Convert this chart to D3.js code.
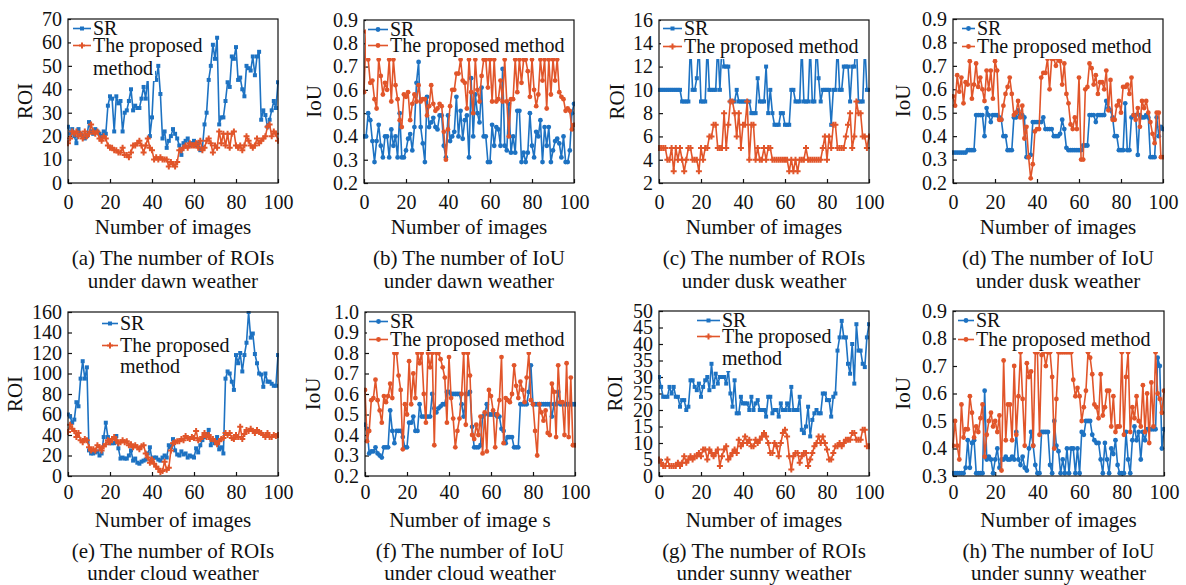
<!DOCTYPE html>
<html>
<head>
<meta charset="utf-8">
<script src="https://cdn.jsdelivr.net/npm/d3@7"></script>
<style>
  body { margin: 0; background: #fff; }
  text { font-family: "Liberation Serif", "Times New Roman", serif; fill: #111; }
</style>
</head>
<body>
<svg id="fig" width="1186" height="585"></svg>
<script>
// x positions (image index) and shared labels
const imageIdx = d3.range(0, 101);
const xTickValues = [0, 20, 40, 60, 80, 100];
const seriesNames = ['SR', 'The proposed method'];

// y tick labels for each panel
const roiDawnTicks = [0, 10, 20, 30, 40, 50, 60, 70];
const roiDuskTicks = [2, 4, 6, 8, 10, 12, 14, 16];
const roiCloudTicks = [0, 20, 40, 60, 80, 100, 120, 140, 160];
const roiSunnyTicks = [0, 5, 10, 15, 20, 25, 30, 35, 40, 45, 50];
const iouTicks = [0.2, 0.3, 0.4, 0.5, 0.6, 0.7, 0.8, 0.9];
const iouCloudTicks = [0.2, 0.3, 0.4, 0.5, 0.6, 0.7, 0.8, 0.9, 1.0];
const iouSunnyTicks = [0.3, 0.4, 0.5, 0.6, 0.7, 0.8, 0.9];

// (a) ROI, dawn
const roiDawnSR = [
  24,21,23,20,17,23,21,20,19,20, 26,22,21,23,22,21,20,22,21,33,
  37,36,22,37,34,35,22,30,31,35, 40,31,33,32,32,36,41,36,46,20,
  28,47,44,50,38,19,22,15,18,20, 23,21,19,16,12,17,18,19,16,17,
  18,16,17,14,15,25,30,44,50,59, 53,62,25,28,28,35,43,41,54,53,
  58,44,45,40,37,50,49,48,54,46, 54,56,27,31,29,24,27,31,35,32, 43];
const roiDawnOurs = [
  17,19,22,21,22,20,21,19,22,20, 21,25,22,21,22,19,18,20,19,16,
  15,15,14,14,13,13,15,12,12,11, 13,16,16,17,18,16,13,16,19,15,
  14,10,11,10,11,10,10,10,7,9, 8,7,9,14,14,15,16,15,17,16,
  16,17,15,18,14,15,18,19,17,13, 16,15,22,17,21,16,21,15,21,22,
  16,15,16,14,16,20,18,16,15,16, 19,17,18,19,20,24,25,20,22,21, 18];

// (b) IoU, dawn
const iouDawnSR = [
  .40,.40,.50,.47,.38,.29,.38,.45,.36,.31, .40,.40,.31,.43,.36,.40,.31,.50,.31,.31,
  .34,.39,.41,.34,.44,.63,.72,.44,.37,.29, .57,.44,.46,.48,.44,.43,.49,.49,.36,.31,
  .49,.38,.40,.42,.57,.40,.51,.39,.47,.49, .31,.65,.40,.58,.50,.46,.61,.40,.40,.29,
  .29,.45,.36,.44,.43,.36,.69,.36,.34,.54, .33,.40,.33,.51,.51,.29,.33,.29,.33,.50,
  .36,.31,.42,.40,.47,.29,.44,.36,.44,.29, .34,.38,.39,.37,.31,.40,.29,.29,.34,.50, .54];
const iouDawnOurs = [
  .59,.85,.73,.63,.64,.56,.52,.73,.66,.58, .63,.60,.73,.55,.73,.62,.56,.47,.44,.58,
  .57,.59,.47,.54,.58,.55,.62,.55,.56,.56, .49,.53,.62,.54,.51,.52,.54,.53,.42,.30,
  .43,.53,.60,.60,.67,.67,.73,.64,.63,.52, .73,.59,.50,.73,.60,.55,.66,.73,.73,.61,
  .73,.55,.73,.55,.56,.64,.55,.73,.55,.40, .56,.56,.73,.59,.73,.63,.73,.73,.68,.57,
  .73,.60,.53,.58,.73,.64,.73,.52,.73,.58, .73,.64,.73,.59,.57,.56,.51,.52,.51,.43, .45];

// (c) ROI, dusk
const roiDuskSR = [
  10,10,10,10,10,10,10,10,10,10, 10,9,9,9,9,14,10,10,11,14,
  9,9,9,14,10,10,10,10,14,10, 14,12,12,12,9,9,9,10,9,9,
  9,9,9,9,8,8,8,11,9,9, 9,12,8,10,8,7,7,7,8,8,
  7,7,7,10,10,9,9,9,14,9, 9,9,14,9,9,14,11,9,10,10,
  10,10,7,10,10,14,10,10,12,12, 12,9,12,12,14,9,9,9,14,10, 10];
const roiDuskOurs = [
  5,5,5,5,4,4,5,3,5,4, 5,4,3,4,5,5,4,4,4,3,
  5,4,5,5,6,6,7,7,5,5, 5,8,5,7,9,9,8,6,8,5,
  7,7,9,4,7,7,4,5,4,4, 5,4,5,5,4,4,4,4,4,4,
  4,4,3,4,3,4,3,4,4,4, 5,4,4,4,4,4,4,4,5,6,
  4,6,5,7,7,5,5,5,5,6, 7,8,5,6,9,8,8,6,6,5, 6];

// (d) IoU, dusk
const iouDuskSR = [
  .33,.33,.33,.33,.33,.33,.33,.34,.34,.34, .34,.49,.49,.49,.49,.40,.52,.49,.46,.49,
  .49,.49,.48,.47,.40,.40,.34,.34,.34,.48, .48,.51,.49,.49,.48,.31,.31,.32,.46,.46,
  .46,.46,.46,.48,.43,.43,.43,.43,.40,.40, .40,.41,.47,.43,.35,.34,.34,.34,.34,.34,
  .34,.34,.36,.36,.36,.49,.49,.49,.46,.49, .49,.49,.49,.55,.52,.51,.48,.40,.40,.34,
  .34,.34,.54,.34,.34,.48,.49,.49,.32,.49, .48,.48,.49,.48,.31,.31,.31,.48,.40,.44, .43];
const iouDuskOurs = [
  .57,.53,.66,.59,.65,.54,.63,.62,.72,.56, .62,.71,.61,.65,.60,.55,.68,.60,.68,.56,
  .72,.68,.47,.47,.53,.58,.61,.65,.58,.49, .50,.55,.48,.53,.39,.44,.31,.22,.28,.42,
  .43,.43,.65,.67,.67,.73,.60,.73,.73,.70, .73,.72,.62,.71,.58,.54,.45,.43,.48,.43,
  .65,.30,.30,.60,.61,.71,.69,.62,.66,.58, .63,.63,.60,.68,.51,.64,.47,.47,.53,.55,
  .50,.61,.61,.62,.58,.65,.49,.47,.52,.44, .55,.52,.55,.50,.46,.41,.37,.50,.50,.31, .31];

// (e) ROI, cloud
const roiCloudSR = [
  60,58,52,55,72,68,95,112,95,106, 25,22,22,23,24,20,22,38,52,38,
  32,32,32,39,27,17,18,17,17,20, 25,15,17,13,12,14,15,16,22,28,
  16,18,18,16,15,18,20,18,30,28, 36,25,21,20,24,21,22,18,20,19,
  18,27,23,30,35,38,40,45,30,35, 32,38,26,28,22,95,102,100,92,84,
  118,110,120,102,118,130,160,135,139,119, 110,100,99,87,100,92,92,90,88,88, 118];
const roiCloudOurs = [
  43,50,46,44,38,42,35,33,36,35, 28,25,26,25,30,28,25,29,31,35,
  33,36,38,35,32,33,35,33,34,30, 31,28,30,28,26,29,30,22,18,13,
  16,12,9,7,4,5,14,6,8,25, 32,33,34,34,36,35,39,37,36,38,
  37,44,35,36,38,42,38,40,36,36, 34,31,34,36,37,42,40,42,37,36,
  40,38,48,36,41,45,44,46,44,42, 45,43,42,40,38,42,38,38,40,39, 40];

// (f) IoU, cloud
const iouCloudSR = [
  .45,.43,.31,.32,.32,.34,.31,.30,.29,.34, .34,.34,.52,.42,.36,.42,.42,.42,.39,.34,
  .34,.46,.46,.49,.42,.42,.55,.49,.49,.49, .49,.49,.60,.53,.51,.53,.54,.55,.55,.61,
  .61,.60,.60,.60,.60,.60,.55,.49,.60,.60, .61,.44,.34,.34,.34,.35,.49,.50,.55,.50,
  .50,.50,.50,.49,.49,.43,.42,.36,.39,.39, .39,.34,.34,.34,.55,.55,.55,.55,.61,.74,
  .55,.55,.55,.55,.55,.55,.55,.55,.55,.49, .55,.55,.61,.55,.55,.55,.55,.55,.55,.55, .55];
const iouCloudOurs = [
  .62,.37,.42,.57,.58,.67,.57,.52,.46,.59, .56,.59,.65,.58,.80,.80,.69,.62,.33,.55,
  .50,.76,.55,.70,.58,.80,.75,.80,.60,.46, .80,.73,.80,.35,.80,.80,.77,.73,.68,.46,
  .78,.58,.48,.34,.42,.48,.60,.80,.45,.80, .69,.40,.38,.45,.40,.49,.31,.51,.32,.62,
  .59,.52,.34,.50,.57,.78,.36,.58,.57,.56, .60,.74,.64,.58,.66,.62,.56,.68,.80,.57,
  .55,.42,.30,.55,.51,.47,.52,.41,.40,.65, .61,.39,.74,.56,.56,.40,.75,.39,.68,.35, .35];

// (g) ROI, sunny
const roiSunnySR = [
  30,27,24,24,24,27,25,27,24,24, 21,23,23,20,21,29,29,27,26,28,
  24,27,29,30,26,34,27,31,28,30, 30,30,28,32,25,21,29,19,19,24,
  22,22,22,20,24,20,22,23,20,20, 20,18,24,24,19,20,20,18,22,20,
  20,22,20,27,20,20,20,24,14,13, 15,21,12,17,19,20,19,19,25,25,
  23,23,18,24,25,38,42,47,42,42, 34,31,40,28,46,38,38,34,33,42, 46];
const roiSunnyOurs = [
  5,4,3,3,5,3,3,3,3,4, 3,4,6,4,5,6,5,6,6,7,
  6,8,8,5,8,7,6,7,8,3, 6,8,9,5,6,7,8,7,11,9,
  10,12,10,11,9,9,11,10,11,12, 13,12,10,7,7,10,9,6,10,13,
  14,12,6,2,6,7,7,4,6,7, 7,3,5,7,9,10,12,10,12,10,
  8,5,5,7,9,9,10,9,10,11, 11,11,13,13,11,11,11,14,14,9, 9];

// (h) IoU, sunny
const iouSunnySR = [
  .31,.31,.31,.31,.31,.31,.33,.43,.33,.42, .43,.31,.31,.31,.31,.61,.36,.37,.36,.31,
  .36,.40,.33,.36,.36,.37,.36,.36,.37,.36, .46,.36,.34,.37,.33,.32,.40,.46,.41,.34,
  .31,.31,.46,.46,.46,.46,.34,.31,.50,.41, .39,.31,.36,.31,.40,.31,.40,.40,.31,.40,
  .31,.46,.45,.50,.50,.50,.45,.43,.42,.42, .36,.31,.42,.36,.31,.40,.38,.43,.34,.31,
  .31,.31,.46,.36,.31,.43,.48,.43,.46,.36, .46,.43,.47,.47,.47,.47,.47,.73,.70,.40, .47];
const iouSunnyOurs = [
  .41,.50,.41,.36,.56,.44,.47,.47,.59,.53, .44,.48,.46,.51,.56,.37,.45,.50,.53,.48,
  .50,.46,.52,.32,.72,.43,.56,.56,.43,.70, .45,.59,.75,.58,.41,.71,.66,.68,.41,.75,
  .75,.45,.74,.75,.70,.75,.75,.66,.40,.58, .75,.75,.75,.75,.75,.75,.75,.65,.59,.62,
  .59,.50,.55,.61,.75,.73,.67,.56,.55,.51, .67,.52,.55,.61,.61,.48,.59,.46,.48,.48,
  .75,.45,.66,.75,.46,.55,.51,.59,.50,.48, .63,.46,.60,.42,.64,.48,.75,.60,.58,.53, .61];

const blue = '#1d72c2';
const orange = '#e1552a';
const serif = '"Liberation Serif", "Times New Roman", serif';

const fmtInt = d3.format('d');
const fmtDec = d3.format('.1f');

// layout of the eight panels
const panels = [
  { id: 'a', left: 68, top: 19, w: 210, h: 164, yDomain: [0, 70], yTicks: roiDawnTicks, fmt: fmtInt,
    yLabel: 'ROI', yLabelX: 25, kind: 'roi', sr: roiDawnSR, ours: roiDawnOurs,
    xTitle: 'Number of images', caption: ['(a) The number of ROIs', 'under dawn weather'],
    xPad: 11.5, titleY: 227, capY: [258, 281],
    legend: { symX: 73, textX: 93, rows: [[35], [52, 75]], wrap: true } },
  { id: 'b', left: 364, top: 20, w: 210, h: 163, yDomain: [0.2, 0.9], yTicks: iouTicks, fmt: fmtDec,
    yLabel: 'IoU', yLabelX: 314, kind: 'iou', sr: iouDawnSR, ours: iouDawnOurs,
    xTitle: 'Number of images', caption: ['(b) The number of IoU', 'under dawn weather'],
    xPad: 11.5, titleY: 227, capY: [258, 281],
    legend: { symX: 368, textX: 390, rows: [[36], [52]], wrap: false } },
  { id: 'c', left: 659, top: 20, w: 210, h: 163, yDomain: [2, 16], yTicks: roiDuskTicks, fmt: fmtInt,
    yLabel: 'ROI', yLabelX: 617, kind: 'roi', sr: roiDuskSR, ours: roiDuskOurs,
    xTitle: 'Number of images', caption: ['(c) The number of ROIs', 'under dusk weather'],
    xPad: 11.5, titleY: 227, capY: [258, 281],
    legend: { symX: 663, textX: 684, rows: [[35], [53]], wrap: false } },
  { id: 'd', left: 953, top: 19, w: 210, h: 164, yDomain: [0.2, 0.9], yTicks: iouTicks, fmt: fmtDec,
    yLabel: 'IoU', yLabelX: 903, kind: 'iou', sr: iouDuskSR, ours: iouDuskOurs,
    xTitle: 'Number of images', caption: ['(d) The number of IoU', 'under dusk weather'],
    xPad: 11.5, titleY: 227, capY: [258, 281],
    legend: { symX: 962, textX: 977, rows: [[35], [53]], wrap: false } },
  { id: 'e', left: 68, top: 312, w: 210, h: 164, yDomain: [0, 160], yTicks: roiCloudTicks, fmt: fmtInt,
    yLabel: 'ROI', yLabelX: 15, kind: 'roi', sr: roiCloudSR, ours: roiCloudOurs,
    xTitle: 'Number of images', caption: ['(e) The number of ROIs', 'under cloud weather'],
    xPad: 8.5, titleY: 520, capY: [551, 573],
    legend: { symX: 102, textX: 120, rows: [[330], [352, 373]], wrap: true } },
  { id: 'f', left: 365, top: 312, w: 210, h: 164, yDomain: [0.2, 1.0], yTicks: iouCloudTicks, fmt: fmtDec,
    yLabel: 'IoU', yLabelX: 313, kind: 'iou', sr: iouCloudSR, ours: iouCloudOurs,
    xTitle: 'Number of image s', caption: ['(f) The number of IoU', 'under cloud weather'],
    xPad: 8.5, titleY: 520, capY: [551, 573],
    legend: { symX: 369, textX: 390, rows: [[328], [346]], wrap: false } },
  { id: 'g', left: 659, top: 311, w: 210, h: 165, yDomain: [0, 50], yTicks: roiSunnyTicks, fmt: fmtInt,
    yLabel: 'ROI', yLabelX: 615, kind: 'roi', sr: roiSunnySR, ours: roiSunnyOurs,
    xTitle: 'Number of images', caption: ['(g) The number of ROIs', 'under sunny weather'],
    xPad: 8.5, titleY: 520, capY: [551, 573],
    legend: { symX: 697, textX: 722, rows: [[327], [343, 365]], wrap: true } },
  { id: 'h', left: 953, top: 311, w: 211, h: 165, yDomain: [0.3, 0.9], yTicks: iouSunnyTicks, fmt: fmtDec,
    yLabel: 'IoU', yLabelX: 903, kind: 'iou', sr: iouSunnySR, ours: iouSunnyOurs,
    xTitle: 'Number of images', caption: ['(h) The number of IoU', 'under sunny weather'],
    xPad: 8.5, titleY: 520, capY: [551, 573],
    legend: { symX: 958, textX: 976, rows: [[327], [346]], wrap: false } },
];

const svg = d3.select('#fig');

// marker shapes
const squarePath = d3.symbol(d3.symbolSquare, 16)();
const crossPath = d3.symbol(d3.symbolCross, 20)();
const circlePath = d3.symbol(d3.symbolCircle, 18)();

function markerFor(kind, which) {
  if (kind === 'iou') return circlePath;
  return which === 0 ? squarePath : crossPath;
}

function drawPanel(p) {
  const g = svg.append('g').attr('transform', `translate(${p.left},${p.top})`);

  const x = d3.scaleLinear().domain([0, 100]).range([0, p.w]);
  const y = d3.scaleLinear().domain(p.yDomain).range([p.h, 0]);

  const clipId = 'clip-' + p.id;
  g.append('clipPath').attr('id', clipId)
    .append('rect').attr('x', -1).attr('y', -1).attr('width', p.w + 2).attr('height', p.h + 2);

  // axes, ticks pointing inward
  const xAxisG = g.append('g').attr('transform', `translate(0,${p.h})`)
    .call(d3.axisBottom(x).tickValues(xTickValues).tickSizeInner(-4).tickSizeOuter(0).tickPadding(p.xPad));
  const yAxisG = g.append('g')
    .call(d3.axisLeft(y).tickValues(p.yTicks).tickFormat(p.fmt).tickSizeInner(-4).tickSizeOuter(0).tickPadding(6));
  [xAxisG, yAxisG].forEach(a => {
    a.attr('font-size', 20).attr('font-family', serif);
    a.select('.domain').remove();
    a.selectAll('.tick line').attr('stroke', '#111').attr('stroke-width', 1.2);
    a.selectAll('.tick text').attr('fill', '#111');
  });

  // lines with markers
  const line = d3.line().x((d, i) => x(imageIdx[i])).y(d => y(d));
  const plot = g.append('g').attr('clip-path', `url(#${clipId})`);
  [p.sr, p.ours].forEach((vals, k) => {
    const color = k === 0 ? blue : orange;
    plot.append('path').datum(vals)
      .attr('fill', 'none').attr('stroke', color).attr('stroke-width', 1.6)
      .attr('stroke-linejoin', 'round').attr('d', line);
    plot.append('g').selectAll('path').data(vals).join('path')
      .attr('transform', (d, i) => `translate(${x(imageIdx[i])},${y(d)})`)
      .attr('d', markerFor(p.kind, k))
      .attr('fill', color);
  });

  // legend, drawn over the lines with a white background
  const lg = svg.append('g');
  const lgSpec = p.legend;
  const entries = lgSpec.wrap ? [[seriesNames[0]], ['The proposed', 'method']] : [[seriesNames[0]], [seriesNames[1]]];
  entries.forEach((lines, k) => {
    const color = k === 0 ? blue : orange;
    lines.forEach((txt, j) => {
      const base = lgSpec.rows[k][j];
      const t = lg.append('text')
        .attr('x', lgSpec.textX).attr('y', base)
        .attr('font-size', 20).text(txt);
      const bb = t.node().getBBox();
      const x0 = j === 0 ? lgSpec.symX - 2 : lgSpec.textX - 2;
      // the single-line legend box reaches the right frame in the original
      const x1 = (!lgSpec.wrap && k === 1) ? p.left + p.w - 1 : bb.x + bb.width + 2;
      lg.insert('rect', 'text')
        .attr('x', x0).attr('y', base - 16)
        .attr('width', x1 - x0).attr('height', 22)
        .attr('fill', '#fff');
      if (j === 0) {
        const sy = base - 6.5;
        lg.append('line')
          .attr('x1', lgSpec.symX).attr('x2', lgSpec.textX - 2)
          .attr('y1', sy).attr('y2', sy)
          .attr('stroke', color).attr('stroke-width', 1.6);
        lg.append('path')
          .attr('transform', `translate(${(lgSpec.symX + lgSpec.textX - 2) / 2},${sy})`)
          .attr('d', markerFor(p.kind, k)).attr('fill', color);
      }
    });
  });

  // plot frame
  svg.append('rect')
    .attr('x', p.left).attr('y', p.top).attr('width', p.w).attr('height', p.h)
    .attr('fill', 'none').attr('stroke', '#111').attr('stroke-width', 1.2);

  // axis titles and caption
  svg.append('text')
    .attr('transform', `translate(${p.yLabelX},${p.top + p.h / 2}) rotate(-90)`)
    .attr('text-anchor', 'middle').attr('dy', '0.35em')
    .attr('font-size', 21).text(p.yLabel);

  const cx = p.left + p.w / 2;
  svg.append('text')
    .attr('x', cx).attr('y', p.titleY).attr('dy', '0.35em')
    .attr('text-anchor', 'middle').attr('font-size', 21).text(p.xTitle);
  p.caption.forEach((c, i) => {
    svg.append('text')
      .attr('x', cx).attr('y', p.capY[i]).attr('dy', '0.35em')
      .attr('text-anchor', 'middle').attr('font-size', 21).text(c);
  });
}

panels.forEach(drawPanel);
</script>
</body>
</html>
